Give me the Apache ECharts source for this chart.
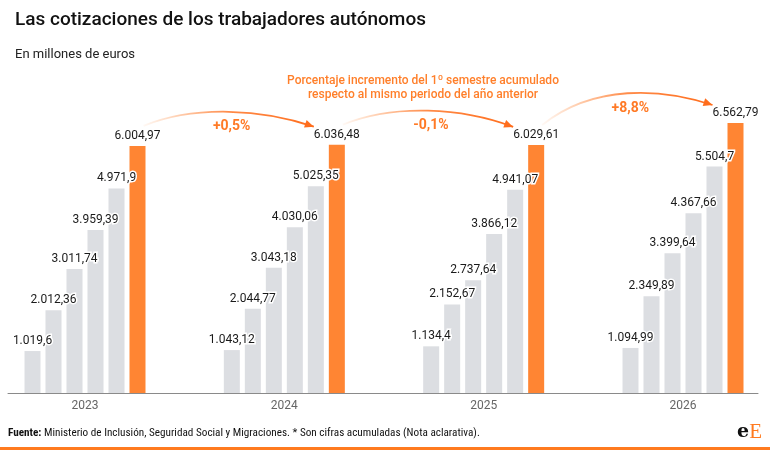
<!DOCTYPE html>
<html>
<head>
<meta charset="utf-8">
<title>Cotizaciones de los autónomos</title>
<style>
  html, body { margin: 0; padding: 0; background: #fff; }
  #chart { width: 770px; height: 450px; }
</style>
</head>
<body>
<div id="chart"></div>
<script src="https://cdn.jsdelivr.net/npm/echarts@6/dist/echarts.min.js"></script>
<script>
// categorias del eje X
var years = ['2023', '2024', '2025', '2026'];
// una barra por mes acumulado (enero..junio)
var months = ['Enero', 'Febrero', 'Marzo', 'Abril', 'Mayo', 'Junio'];
// cotizaciones acumuladas, millones de euros
var v2023 = [1019.6, 2012.36, 3011.74, 3959.39, 4971.9, 6004.97];
var v2024 = [1043.12, 2044.77, 3043.18, 4030.06, 5025.35, 6036.48];
var v2025 = [1134.4, 2152.67, 2737.64, 3866.12, 4941.07, 6029.61];
var v2026 = [1094.99, 2349.89, 3399.64, 4367.66, 5504.7, 6562.79];
// incremento del semestre frente al año anterior
var increments = ['+0,5%', '-0,1%', '+8,8%'];

var byYear = [v2023, v2024, v2025, v2026];
var GREY = '#dcdee2', ORANGE = '#ff8533', ARROW = '#ff6d1c';
var BAR_W = 16, BAR_GAP = 5;
var FONT = 'Roboto, "Noto Sans", sans-serif';

// 1019.6 -> "1.019,6"
function fmt(v) {
    var p = String(v).split('.');
    var ent = p[0].replace(/\B(?=(\d{3})+(?!\d))/g, '.');
    return p.length > 1 ? ent + ',' + p[1] : ent;
}

var series = months.map(function (m, k) {
    return {
        name: m,
        type: 'bar',
        xAxisIndex: 0,
        yAxisIndex: 0,
        barWidth: BAR_W,
        barGap: (BAR_GAP / BAR_W * 100) + '%',
        itemStyle: { color: k == months.length - 1 ? ORANGE : GREY },
        emphasis: { disabled: true },
        label: {
            show: true,
            position: 'top',
            distance: 4,
            color: '#1a1a1a',
            fontSize: 12,
            fontFamily: FONT,
            textBorderColor: '#fff',
            textBorderWidth: 3,
            formatter: function (p) { return fmt(p.value); }
        },
        data: byYear.map(function (y) { return y[k]; })
    };
});

var chart = echarts.init(document.getElementById('chart'));
chart.setOption({
    animation: false,
    textStyle: { fontFamily: FONT },
    title: [
        { text: 'Las cotizaciones de los trabajadores autónomos', left: 10, top: 6,
          textStyle: { fontSize: 19, fontWeight: 500, color: '#111', fontFamily: FONT } },
        { text: 'En millones de euros', left: 10, top: 43,
          textStyle: { fontSize: 13, fontWeight: 'normal', color: '#222', fontFamily: FONT } }
    ],
    grid: [
        // los años caen sobre los extremos del grid
        { left: 85, right: 87, top: 105, bottom: 57 },
        // solo para la linea base del eje
        { left: 8, right: 12, top: 105, bottom: 57 }
    ],
    xAxis: [
        {
            type: 'category', gridIndex: 0, data: years, boundaryGap: false,
            axisLine: { show: false }, axisTick: { show: false },
            axisLabel: { color: '#666', fontSize: 12, margin: 7, fontFamily: FONT }
        },
        {
            type: 'value', gridIndex: 1, min: 0, max: 1,
            axisLine: { show: true, onZero: false, lineStyle: { color: '#8a8a8a', width: 1 } },
            axisTick: { show: false }, axisLabel: { show: false }, splitLine: { show: false }
        }
    ],
    yAxis: [
        { type: 'value', gridIndex: 0, min: 0, max: 7000, show: false },
        { type: 'value', gridIndex: 1, min: 0, max: 1, show: false }
    ],
    series: series
});

// flechas entre las barras naranjas y textos
function drawNotes() {
    var els = [];
    var off = (months.length - 1) / 2 * (BAR_W + BAR_GAP);
    var pts = byYear.map(function (y, i) {
        var cx = chart.convertToPixel({ xAxisIndex: 0 }, i) + off;
        var top = chart.convertToPixel({ yAxisIndex: 0 }, y[y.length - 1]);
        return [cx, top];
    });
    for (var i = 0; i < increments.length; i++) {
        var a = pts[i], b = pts[i + 1];
        var x1 = a[0] + 6, y1 = a[1] - 20;
        var x2 = b[0] - 23, y2 = b[1] - 18;
        var hi = Math.min(y1, y2), dx = x2 - x1;
        var c1x = x1 + dx * 0.3, c1y = hi - 21;
        var c2x = x1 + dx * 0.7, c2y = hi - 17;
        els.push({
            type: 'bezierCurve',
            shape: { x1: x1, y1: y1, x2: x2, y2: y2, cpx1: c1x, cpy1: c1y, cpx2: c2x, cpy2: c2y },
            style: {
                fill: null, lineWidth: 1.8,
                stroke: {
                    type: 'linear', global: true, x: x1, y: 0, x2: x2, y2: 0,
                    colorStops: [
                        { offset: 0, color: 'rgba(255,133,51,0.05)' },
                        { offset: 0.5, color: 'rgba(255,118,40,0.85)' },
                        { offset: 1, color: ARROW }
                    ]
                }
            },
            silent: true
        });
        // punta de flecha
        var ang = Math.atan2(y2 - c2y, x2 - c2x);
        var len = 9, wid = 4;
        var bx = x2 - len * Math.cos(ang), by = y2 - len * Math.sin(ang);
        var nx = -Math.sin(ang) * wid, ny = Math.cos(ang) * wid;
        els.push({
            type: 'polygon',
            shape: { points: [[x2, y2], [bx + nx, by + ny], [bx - nx, by - ny]] },
            style: { fill: ARROW },
            silent: true
        });
        var peak = 0.125 * y1 + 0.375 * c1y + 0.375 * c2y + 0.125 * y2;
        els.push({
            type: 'text', x: x1 + dx / 2 + 3, y: peak + 15,
            style: {
                text: increments[i], fill: '#ff7a26', fontSize: 14, fontWeight: 'bold',
                fontFamily: FONT, align: 'center', verticalAlign: 'middle'
            },
            silent: true
        });
    }
    els.push({
        type: 'text', x: 423, y: 88,
        style: {
            text: 'Porcentaje incremento del 1º semestre acumulado\nrespecto al mismo periodo del año anterior',
            fill: '#ff7f2a', fontSize: 12, fontWeight: 500, fontFamily: FONT,
            align: 'center', verticalAlign: 'middle', lineHeight: 14
        },
        silent: true
    });
    els.push({
        type: 'text', x: 8, y: 433,
        style: {
            text: '{b|Fuente:} Ministerio de Inclusión, Seguridad Social y Migraciones. * Son cifras acumuladas (Nota aclarativa).',
            fill: '#111', fontSize: 11.2, verticalAlign: 'middle',
            fontFamily: '"Roboto Condensed", "Liberation Sans Narrow", Roboto, sans-serif',
            rich: { b: { fontWeight: 'bold', fontSize: 11.2,
                fontFamily: '"Roboto Condensed", "Liberation Sans Narrow", Roboto, sans-serif' } }
        },
        silent: true
    });
    els.push({
        type: 'text', x: 762, y: 432,
        style: {
            text: '{e|e}{E|E}', align: 'right', verticalAlign: 'middle',
            rich: {
                e: { fontFamily: '"DejaVu Serif", serif', fontWeight: 'bold', fontSize: 19, fill: '#111' },
                E: { fontFamily: '"Liberation Serif", serif', fontSize: 21, fill: '#ff7a1f' }
            }
        },
        silent: true
    });
    els.push({
        type: 'rect', shape: { x: 0, y: 447, width: 770, height: 3 },
        style: { fill: '#ff7a1f' }, silent: true
    });
    chart.setOption({ graphic: { elements: els } });
}
drawNotes();
</script>
</body>
</html>
